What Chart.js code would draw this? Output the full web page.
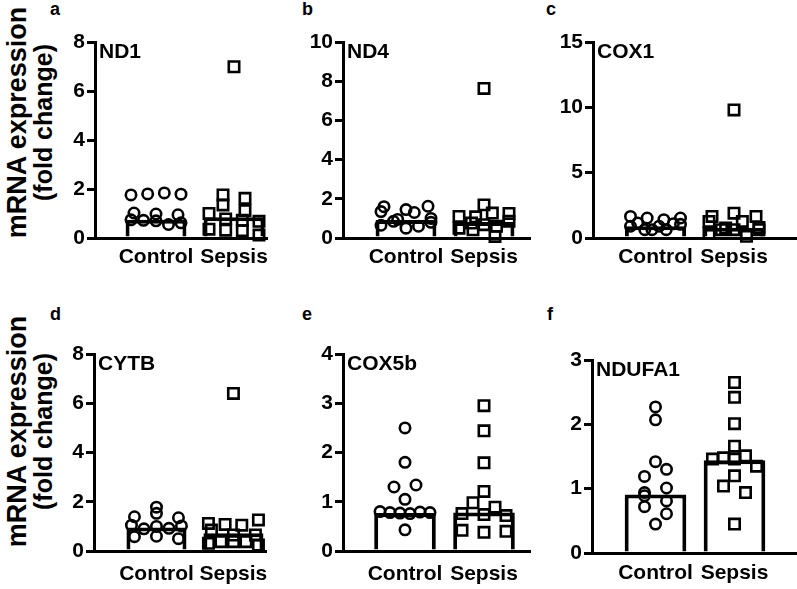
<!DOCTYPE html>
<html><head><meta charset="utf-8">
<script src="https://cdn.jsdelivr.net/npm/chart.js@4.4.1/dist/chart.umd.min.js"></script>
<style>
html,body{margin:0;padding:0;background:#fff;overflow:hidden;width:797px;height:589px;}
#wrap{position:relative;width:797px;height:589px;overflow:hidden;}
canvas{position:absolute;}
.lbl{position:absolute;font-family:"Liberation Sans",Arial,sans-serif;font-weight:bold;color:#000;white-space:nowrap;}
</style></head><body><div id="wrap"></div>
<script>
// ---------- data ----------
const groups = ['Control', 'Sepsis'];
const genes = ['ND1', 'ND4', 'COX1', 'CYTB', 'COX5b', 'NDUFA1'];
const panelLetters = ['a', 'b', 'c', 'd', 'e', 'f'];
const yTitleLines = ['mRNA expression', '(fold change)'];
const yMax = [8, 10, 15, 8, 4, 3];
const yStep = [2, 2, 5, 2, 1, 1];

const ctrlND1 = [1.76, 1.80, 1.84, 1.79, 1.02, 0.98, 0.95, 0.74, 0.72, 0.70, 0.55, 0.62];
const sepsND1 = [6.99, 1.76, 1.62, 1.35, 1.12, 1.00, 0.78, 0.72, 0.68, 0.36, 0.32, 0.30, 0.12];
const barND1 = [0.74, 0.85];

const ctrlND4 = [1.35, 1.60, 0.65, 0.85, 0.95, 0.50, 1.30, 1.45, 1.62, 0.60, 1.00, 0.80];
const sepsND4 = [7.63, 1.69, 1.10, 1.08, 1.27, 1.25, 0.50, 0.76, 0.42, 0.68, 0.08, 0.60, 0.85];
const barND4 = [0.92, 0.82];

const ctrlCOX1 = [1.65, 1.53, 0.90, 1.15, 1.40, 0.64, 0.64, 0.90, 1.53, 0.64, 1.10, 1.05];
const sepsCOX1 = [9.80, 1.27, 1.65, 1.90, 0.38, 0.76, 0.64, 0.64, 1.27, 1.65, 0.13, 0.64, 0.80];
const barCOX1 = [0.90, 0.78];

const ctrlCYTB = [1.05, 1.39, 1.53, 1.35, 1.78, 0.58, 0.90, 1.00, 0.92, 1.02, 0.60, 0.50];
const sepsCYTB = [6.40, 1.12, 1.08, 0.31, 0.38, 0.85, 1.05, 1.26, 0.38, 0.38, 0.24, 0.65, 0.65];
const barCYTB = [0.95, 0.72];

const ctrlCOX5b = [2.50, 1.80, 1.30, 1.34, 1.05, 0.80, 0.78, 0.77, 0.76, 0.79, 0.78, 0.43];
const sepsCOX5b = [2.95, 2.44, 1.79, 1.21, 0.98, 0.89, 0.76, 0.74, 0.72, 0.42, 0.38, 0.40];
const barCOX5b = [0.77, 0.78];

const ctrlNDUFA1 = [2.27, 2.07, 1.19, 1.30, 1.42, 0.89, 0.94, 1.01, 0.72, 0.81, 0.61, 0.45];
const sepsNDUFA1 = [2.65, 2.42, 2.01, 1.66, 1.46, 1.46, 1.48, 1.51, 1.35, 1.20, 1.04, 0.94, 0.45];
const barNDUFA1 = [0.91, 1.44];

const controlSets = [ctrlND1, ctrlND4, ctrlCOX1, ctrlCYTB, ctrlCOX5b, ctrlNDUFA1];
const sepsisSets = [sepsND1, sepsND4, sepsCOX1, sepsCYTB, sepsCOX5b, sepsNDUFA1];
const barSets = [barND1, barND4, barCOX1, barCYTB, barCOX5b, barNDUFA1];

// ---------- layout (page pixels) ----------
const panelGeom = [
  {axisX: 95,  top: 42,  bottom: 238, xEnd: 267, c1: 156,   c2: 234,   lp: 7},
  {axisX: 343, top: 42,  bottom: 238, xEnd: 530, c1: 406,   c2: 484,   lp: 7},
  {axisX: 593, top: 42,  bottom: 238, xEnd: 797, c1: 655.5, c2: 734,   lp: 7},
  {axisX: 94,  top: 354, bottom: 551, xEnd: 267, c1: 156.5, c2: 233.5, lp: 11},
  {axisX: 343, top: 354, bottom: 551, xEnd: 530, c1: 405,   c2: 484,   lp: 11},
  {axisX: 592, top: 360, bottom: 553, xEnd: 797, c1: 655.5, c2: 734.5, lp: 8}
];
const letterPos = [[50, 0], [302, 0], [546, 0], [50, 305], [302, 305], [547, 305]];
const titleRows = [122, 431];

const FONT = '"Liberation Sans", Arial, sans-serif';
Chart.defaults.font.family = FONT;
Chart.defaults.color = '#000';

const wrap = document.getElementById('wrap');

panelLetters.forEach((t, i) => {
  const d = document.createElement('div');
  d.className = 'lbl';
  d.textContent = t;
  d.style.fontSize = '18px';
  d.style.lineHeight = '18px';
  d.style.left = letterPos[i][0] + 'px';
  d.style.top = letterPos[i][1] + 'px';
  wrap.appendChild(d);
});

titleRows.forEach(cy => {
  const specs = [{text: yTitleLines[0], fs: 27, cx: 16.6}, {text: yTitleLines[1], fs: 25, cx: 43}];
  specs.forEach(s => {
    const d = document.createElement('div');
    d.className = 'lbl';
    d.textContent = s.text;
    const W = 300;
    d.style.fontSize = s.fs + 'px';
    d.style.lineHeight = s.fs + 'px';
    d.style.width = W + 'px';
    d.style.height = s.fs + 'px';
    d.style.textAlign = 'center';
    d.style.left = (s.cx - W / 2) + 'px';
    d.style.top = (cy - s.fs / 2) + 'px';
    d.style.transform = 'rotate(-90deg)';
    wrap.appendChild(d);
  });
});

const geneLabel = {
  id: 'geneLabel',
  afterDraw(chart, args, opts) {
    const {ctx, chartArea} = chart;
    ctx.save();
    ctx.font = 'bold 21px ' + FONT;
    ctx.fillStyle = '#000';
    ctx.textBaseline = 'alphabetic';
    ctx.textAlign = 'left';
    ctx.fillText(opts.text, chartArea.left + 4, chartArea.top + 15.5);
    ctx.restore();
  }
};

// scatter-dot layout: values close in height share a row and are spread sideways
function spread(values, chart, center, binH, maxSpan, maxStep) {
  const xs = chart.scales.x, ys = chart.scales.y;
  const unit = xs.getPixelForValue(2) - xs.getPixelForValue(1);
  const idx = values.map((v, i) => i).sort((a, b) => values[a] - values[b]);
  const rows = [];
  let cur = null;
  idx.forEach(i => {
    const py = ys.getPixelForValue(values[i]);
    if (cur && Math.abs(cur.y0 - py) < binH) cur.items.push(i);
    else { cur = {y0: py, items: [i]}; rows.push(cur); }
  });
  const out = new Array(values.length);
  rows.forEach(r => {
    r.items.sort((a, b) => a - b);
    const n = r.items.length;
    const step = n > 1 ? Math.min(maxStep, maxSpan / (n - 1)) : 0;
    r.items.forEach((i, j) => {
      const off = (j - (n - 1) / 2) * step;
      out[i] = {x: center + off / unit, y: values[i]};
    });
  });
  return out;
}

const YW = 50, PT = 15, PR = 14, XH = 42;

panelGeom.forEach((g, i) => {
  const c = document.createElement('canvas');
  const left = g.axisX - YW, top = g.top - PT;
  const w = g.xEnd + PR - left, h = g.bottom + XH - top;
  c.width = w; c.height = h;
  c.style.left = left + 'px'; c.style.top = top + 'px';
  c.style.width = w + 'px'; c.style.height = h + 'px';
  wrap.appendChild(c);
  const sp = g.c2 - g.c1;
  const xMin = 1 - (g.c1 - g.axisX) / sp;
  const xMax = 2 + (g.xEnd - g.c2) / sp;
  const ctrl = controlSets[i], seps = sepsisSets[i], bars = barSets[i];
  const chart = new Chart(c, {
    type: 'bar',
    data: {
      datasets: [
        {type: 'scatter', order: 1, clip: false,
         data: ctrl.map(v => ({x: 1, y: v})),
         pointStyle: 'circle', pointRadius: 5.2, pointBorderWidth: 2.6,
         pointBorderColor: '#000', pointBackgroundColor: 'rgba(0,0,0,0)',
         borderColor: '#000', backgroundColor: 'rgba(0,0,0,0)'},
        {type: 'scatter', order: 1, clip: false,
         data: seps.map(v => ({x: 2, y: v})),
         pointStyle: 'rect', pointRadius: 7.35, pointBorderWidth: 2.6,
         pointBorderColor: '#000', pointBackgroundColor: 'rgba(0,0,0,0)',
         borderColor: '#000', backgroundColor: 'rgba(0,0,0,0)'},
        {type: 'bar', order: 2,
         data: [{x: 1, y: bars[0]}, {x: 2, y: bars[1]}],
         backgroundColor: '#fff', borderColor: '#000', borderWidth: 4,
         borderSkipped: 'bottom', barPercentage: 0.78, categoryPercentage: 1}
      ]
    },
    options: {
      responsive: false, animation: false, devicePixelRatio: 1, events: [],
      layout: {padding: {left: 0, top: PT, right: PR, bottom: 0}},
      plugins: {legend: {display: false}, tooltip: {enabled: false}, title: {display: false},
                geneLabel: {text: genes[i]}},
      scales: {
        x: {
          type: 'linear', min: xMin, max: xMax, offset: false,
          grid: {display: false, drawTicks: false, offset: false},
          border: {display: true, color: '#000', width: 3},
          afterBuildTicks: s => { s.ticks = [{value: 1}, {value: 2}]; },
          afterFit: s => { s.height = XH; },
          ticks: {
            autoSkip: false, maxRotation: 0, padding: g.lp,
            font: {size: 21, weight: 'bold'}, color: '#000',
            callback: v => (v === 1 ? groups[0] : v === 2 ? groups[1] : '')
          }
        },
        y: {
          type: 'linear', min: 0, max: yMax[i],
          grid: {display: true, drawOnChartArea: false, drawTicks: true, tickLength: 8, lineWidth: 3, color: '#000'},
          border: {display: true, color: '#000', width: 3},
          afterFit: s => { s.width = YW; },
          ticks: {stepSize: yStep[i], padding: 2, font: {size: 21, weight: 'bold'}, color: '#000'}
        }
      }
    },
    plugins: [geneLabel]
  });
  chart.data.datasets[0].data = spread(ctrl, chart, 1, 8, 50, 22);
  chart.data.datasets[1].data = spread(seps, chart, 2, 8, 50, 22);
  chart.update('none');
});
</script>
</body></html>
